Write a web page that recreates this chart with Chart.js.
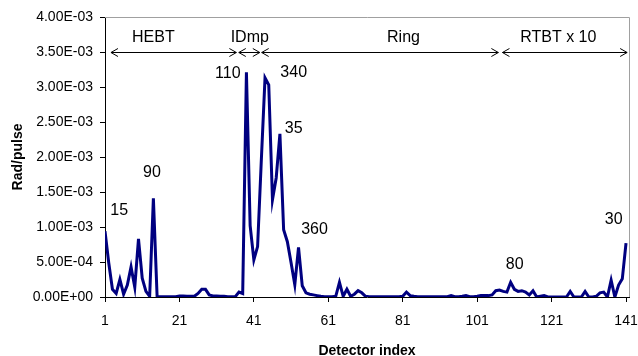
<!DOCTYPE html>
<html><head><meta charset="utf-8">
<script src="https://cdn.jsdelivr.net/npm/chart.js@4.4.1/dist/chart.umd.min.js"></script>
<style>html,body{margin:0;padding:0;background:#fff;} #wrap{width:638px;height:356px;position:relative;}</style>
</head><body><div id="wrap"><canvas id="c" width="638" height="356"></canvas></div>
<script>
// ---- data ----
const detectorIndex = Array.from({length: 141}, (_, i) => i + 1);
const radPerPulse = [
  9.4e-4, 4.9e-4, 1.1e-4, 5e-5, 2.5e-4, 4e-5, 1.7e-4, 4.3e-4, 1.4e-4, 8.3e-4,
  2.7e-4, 8e-5, 1e-5, 1.41e-3, 5e-6, 5e-6, 5e-6, 5e-6, 5e-6, 5e-6,
  1.5e-5, 1.5e-5, 1e-5, 1e-5, 1e-5, 5e-5, 1.1e-4, 1.1e-4, 3e-5, 1.5e-5,
  1.5e-5, 1e-5, 1e-5, 5e-6, 5e-6, 5e-6, 7e-5, 5e-5, 3.21e-3, 1.02e-3,
  5.3e-4, 7.2e-4, 1.95e-3, 3.13e-3, 3.03e-3, 1.39e-3, 1.7e-3, 2.33e-3, 9.6e-4, 7.9e-4,
  4.9e-4, 1.76e-4, 7.1e-4, 1.6e-4, 6e-5, 4e-5, 3e-5, 2e-5, 1e-5, 5e-6,
  5e-6, 5e-6, 1e-5, 2.1e-4, 1e-5, 1.1e-4, 1e-5, 4e-5, 9e-5, 6e-5,
  1e-5, 5e-6, 5e-6, 5e-6, 5e-6, 5e-6, 5e-6, 5e-6, 5e-6, 5e-6,
  1e-5, 7e-5, 2e-5, 1e-5, 5e-6, 5e-6, 5e-6, 5e-6, 5e-6, 5e-6,
  5e-6, 5e-6, 5e-6, 2e-5, 5e-6, 5e-6, 1e-5, 2e-5, 5e-6, 5e-6,
  1e-5, 2e-5, 2e-5, 2e-5, 3e-5, 9e-5, 1e-4, 8e-5, 7e-5, 2.1e-4,
  1.1e-4, 8e-5, 9e-5, 7e-5, 3e-5, 9e-5, 0, 1e-5, 2e-5, 0,
  0, 0, 0, 0, 0, 8e-5, 0, 0, 0, 8e-5,
  0, 0, 1e-5, 6e-5, 7e-5, 0, 2.4e-4, 0, 1.7e-4, 2.6e-4, 7.7e-4
];
const xTickLabels = [1, 21, 41, 61, 81, 101, 121, 141];
const yTickValues = [0, 5e-4, 1e-3, 1.5e-3, 2e-3, 2.5e-3, 3e-3, 3.5e-3, 4e-3];

// section annotations (data coordinates)
const sectionNames = ['HEBT', 'IDmp', 'Ring', 'RTBT x 10'];
const sectionStart = [2.6, 36.95, 43.1, 107.8];
const sectionEnd = [36.3, 42.6, 106.7, 141.3];
const sectionLabelX = [14.0, 39.9, 81.2, 122.8];
const sectionArrowY = 3.5e-3;
const sectionLabelY = 3.70e-3;

// peak annotations (data coordinates)
const peakLabels = ['15', '90', '110', '340', '35', '360', '80', '30'];
const peakLabelX = [4.8, 13.6, 34.0, 51.7, 51.7, 57.3, 111.1, 137.7];
const peakLabelY = [1.23e-3, 1.78e-3, 3.19e-3, 3.2e-3, 2.40e-3, 9.7e-4, 4.6e-4, 1.1e-3];

const FONT = '"Liberation Sans", Arial, sans-serif';

function fmtE(v) {
  const parts = Number(v).toExponential(2).split('e');
  const n = parseInt(parts[1], 10);
  return parts[0] + 'E' + (n < 0 ? '-' : '+') + String(Math.abs(n)).padStart(2, '0');
}

const annotate = {
  id: 'annotate',
  afterDatasetsDraw(chart) {
    const {ctx, scales: {x, y}, chartArea} = chart;
    ctx.save();
    // grey frame top / right
    ctx.strokeStyle = '#a0a0a0';
    ctx.lineWidth = 1;
    ctx.beginPath();
    ctx.moveTo(chartArea.left, chartArea.top + 0.5);
    ctx.lineTo(chartArea.right + 0.5, chartArea.top + 0.5);
    ctx.lineTo(chartArea.right + 0.5, chartArea.bottom);
    ctx.stroke();

    ctx.strokeStyle = '#000';
    ctx.fillStyle = '#000';
    ctx.lineWidth = 1;
    const ay = Math.round(y.getPixelForValue(sectionArrowY)) + 0.5;
    for (let i = 0; i < sectionNames.length; i++) {
      const x1 = x.getPixelForValue(sectionStart[i]);
      const x2 = x.getPixelForValue(sectionEnd[i]);
      ctx.beginPath();
      ctx.moveTo(x1, ay); ctx.lineTo(x2, ay);
      ctx.moveTo(x1 + 7, ay - 4); ctx.lineTo(x1, ay); ctx.lineTo(x1 + 7, ay + 4);
      ctx.moveTo(x2 - 7, ay - 4); ctx.lineTo(x2, ay); ctx.lineTo(x2 - 7, ay + 4);
      ctx.stroke();
    }
    ctx.font = '16px ' + FONT;
    ctx.textAlign = 'center';
    ctx.textBaseline = 'middle';
    for (let i = 0; i < sectionNames.length; i++) {
      ctx.fillText(sectionNames[i], x.getPixelForValue(sectionLabelX[i]), y.getPixelForValue(sectionLabelY));
    }
    for (let i = 0; i < peakLabels.length; i++) {
      ctx.fillText(peakLabels[i], x.getPixelForValue(peakLabelX[i]), y.getPixelForValue(peakLabelY[i]));
    }
    ctx.restore();
  }
};

Chart.defaults.font.family = FONT;
Chart.defaults.color = '#000';

new Chart(document.getElementById('c'), {
  type: 'line',
  data: {
    datasets: [{
      data: detectorIndex.map((d, i) => ({x: d, y: radPerPulse[i]})),
      borderColor: '#000080',
      borderWidth: 3,
      pointRadius: 0,
      tension: 0,
      fill: false
    }]
  },
  options: {
    responsive: false,
    animation: false,
    devicePixelRatio: 1,
    layout: {padding: {top: 17, right: 9, left: 0, bottom: 0}},
    plugins: {legend: {display: false}, tooltip: {enabled: false}},
    scales: {
      x: {
        type: 'linear',
        min: 1,
        max: 141.8,
        afterBuildTicks(scale) { scale.ticks = xTickLabels.map(v => ({value: v})); },
        afterFit(scale) { scale.height = 59; scale.paddingLeft = 0; scale.paddingRight = 0; },
        ticks: {font: {size: 14}, padding: 11, maxRotation: 0, callback: v => String(v)},
        grid: {display: true, drawOnChartArea: false, drawTicks: true, tickLength: 5, color: '#000', tickColor: '#000'},
        border: {display: true, color: '#000', width: 1},
        title: {display: true, text: 'Detector index', font: {size: 14, weight: 'bold', lineHeight: 0.72}, padding: {top: 0, bottom: 0}}
      },
      y: {
        min: 0,
        max: 4e-3,
        afterBuildTicks(scale) { scale.ticks = yTickValues.map(v => ({value: v})); },
        afterFit(scale) { scale.width = 105; scale.paddingTop = 0; scale.paddingBottom = 0; },
        ticks: {font: {size: 14}, padding: 7, callback: v => fmtE(v)},
        grid: {display: true, drawOnChartArea: false, drawTicks: true, tickLength: 5, color: '#000', tickColor: '#000'},
        border: {display: true, color: '#000', width: 1},
        title: {display: true, text: 'Rad/pulse', font: {size: 14, weight: 'bold', lineHeight: 1}, padding: {top: 11, bottom: 0}}
      }
    }
  },
  plugins: [annotate]
});
</script>
</body></html>
